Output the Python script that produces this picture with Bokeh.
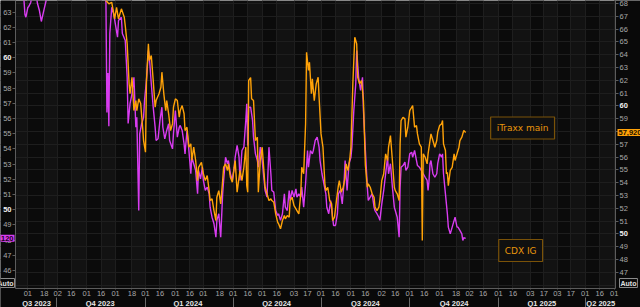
import pandas as pd
from bokeh.plotting import figure
from bokeh.models import Range1d, LinearAxis, FixedTicker, Label, ColumnDataSource, BoxAnnotation
from bokeh.embed import file_html
from bokeh.resources import INLINE

# ---------------- data (days counted from 2024-01-01) ----------------
BASE_DATE = "2024-01-01"

cdx_days = [-140, -135, -130, -126, -125, -124, -122, -121, -119, -117, -114, -112, -110, -108, -105, -103,
            -100, -95, -88, -80, -72, -65, -58, -52, -47, -44, -42, -41, -40, -39, -38, -37, -35, -33, -29,
            -28, -25, -24, -21, -19, -18, -16, -14, -12, -10, -9, -7, -6, -4, -2, -1, 1, 3, 4, 6, 8, 10, 11,
            13, 15, 17, 18, 20, 22, 24, 25, 28, 29, 31, 33, 35, 36, 38, 40, 41, 43, 45, 47, 48, 50, 52, 54,
            55, 57, 59, 60, 62, 64, 66, 67, 69, 71, 73, 74, 76, 78, 80, 81, 83, 85, 86, 88, 90, 92, 93, 95,
            97, 98, 100, 102, 104, 105, 106, 107, 109, 111, 112, 114, 116, 117, 119, 121, 123, 124, 126, 128,
            130, 131, 133, 135, 137, 138, 140, 142, 144, 145, 147, 149, 150, 152, 154, 156, 157, 159, 161,
            162, 164, 166, 168, 169, 171, 173, 174, 176, 178, 180, 181, 183, 185, 187, 188, 190, 192, 194,
            195, 197, 199, 200, 202, 204, 206, 207, 209, 211, 213, 214, 216, 218, 219, 221, 223, 225, 226,
            228, 230, 231, 233, 235, 237, 238, 240, 242, 243, 245, 247, 249, 251, 252, 254, 256, 258, 259,
            261, 263, 264, 265, 267, 269, 270, 272, 274, 276, 277, 279, 281, 282, 284, 286, 288, 290, 292,
            293, 294, 295, 296, 298, 300, 302, 303, 305, 307, 308, 309, 311, 313, 314, 316, 318, 320, 321,
            323, 324, 326, 328, 329, 330, 332]
cdx_vals = [64.6, 64.4, 64.2, 63.8, 62.85, 62.67, 63.31, 63.38, 63.64, 64.3, 64.4, 63.57, 63.11, 62.39, 63.24,
            63.77, 64.5, 65.5, 66.2, 65.8, 66.5, 67.5, 69.0, 70.5, 68.0, 66.0, 64.5, 63.6, 56.4, 59.0, 55.5,
            61.6, 63.33, 62.89, 61.36, 62.45, 62.67, 61.6, 61.14, 58.72, 55.68, 57.0, 57.63, 58.72, 55.43,
            56.09, 49.95, 55.0, 55.66, 56.09, 57.19, 58.51, 60.48, 60.04, 58.29, 56.75, 55.43, 54.56, 54.67,
            55.88, 56.75, 55.43, 54.67, 55.22, 55.66, 54.56, 54.01, 55.0, 56.53, 54.78, 55.43, 55.55, 55.22,
            54.34, 53.68, 55.22, 53.9, 52.37, 53.46, 53.03, 52.59, 51.05, 52.59, 52.04, 52.8, 51.93, 51.27,
            51.49, 51.05, 50.17, 49.51, 49.08, 48.2, 49.3, 49.74, 48.2, 51.05, 51.93, 53.46, 53.03, 53.24,
            52.37, 51.93, 52.8, 53.46, 54.23, 53.46, 51.93, 53.9, 54.12, 55.88, 56.97, 54.23, 56.75, 56.75,
            55.88, 54.78, 53.68, 53.24, 52.8, 54.12, 53.24, 51.93, 51.27, 50.83, 54.12, 52.37, 51.27, 51.16,
            49.95, 49.63, 49.74, 49.3, 49.74, 51.05, 50.17, 49.95, 51.27, 50.61, 51.27, 50.83, 51.38, 50.83,
            51.05, 50.83, 51.49, 50.17, 51.71, 53.9, 52.8, 53.9, 53.68, 53.9, 54.56, 54.78, 54.12, 53.24,
            52.37, 51.71, 51.05, 50.17, 49.74, 50.61, 49.51, 48.97, 48.97, 49.74, 51.05, 51.27, 50.39, 51.93,
            53.24, 51.27, 53.03, 53.46, 54.12, 56.53, 58.29, 60.48, 58.72, 57.85, 58.72, 56.53, 53.9, 51.49,
            50.61, 50.83, 51.05, 50.17, 49.95, 49.74, 49.51, 49.3, 50.39, 51.27, 52.37, 53.46, 52.37, 53.03,
            51.49, 50.17, 49.95, 49.51, 48.2, 51.49, 52.8, 52.91, 53.13, 52.59, 52.8, 53.68, 53.79, 53.46,
            53.9, 53.24, 52.91, 52.8, 52.59, 52.37, 52.14, 51.93, 51.27, 51.93, 53.03, 53.24, 52.37, 52.14,
            52.37, 53.03, 53.68, 53.46, 53.68, 52.37, 51.05, 49.74, 48.86, 48.42, 48.86, 49.3, 49.51, 48.86,
            48.86, 48.64, 48.42, 47.98, 48.16, 48.12]

itraxx_days = [-140, -120, -100, -80, -60, -50, -45, -43, -41, -38, -35, -32, -30, -28, -25, -22, -21, -19, -17,
               -16, -14, -12, -10, -9, -7, -5, -3, -2, 0, 1, 3, 4, 6, 8, 10, 11, 14, 16, 17, 19, 21, 22, 24,
               26, 28, 29, 31, 33, 35, 36, 38, 40, 41, 43, 45, 47, 48, 50, 52, 54, 55, 58, 60, 62, 64, 66, 67,
               69, 71, 73, 74, 76, 78, 80, 81, 83, 85, 86, 88, 90, 92, 93, 95, 97, 98, 100, 102, 104, 105, 106,
               107, 109, 110, 112, 114, 116, 117, 119, 121, 123, 124, 126, 128, 130, 131, 133, 135, 137, 138,
               140, 142, 144, 145, 147, 149, 150, 152, 154, 156, 157, 159, 161, 162, 164, 166, 167, 169, 170,
               172, 173, 175, 177, 179, 180, 182, 184, 186, 187, 189, 191, 193, 194, 196, 198, 200, 201, 203,
               205, 207, 208, 210, 212, 213, 215, 217, 219, 220, 222, 224, 226, 227, 228, 230, 231, 233, 235,
               237, 238, 240, 242, 243, 245, 247, 249, 251, 252, 254, 256, 258, 259, 261, 263, 264, 265, 267,
               269, 270, 272, 274, 276, 277, 279, 281, 282, 284, 286, 287, 288, 290, 292, 293, 295, 296, 298,
               300, 302, 303, 305, 307, 308, 309, 311, 312, 313, 314, 316, 318, 320, 321, 323, 325, 326, 328,
               330, 332]
itraxx_vals = [73.0, 72.5, 74.0, 76.0, 80.0, 83.0, 76.0, 70.0, 68.23, 67.97, 68.09, 66.8, 67.7, 66.8, 67.58,
               66.92, 66.27, 64.84, 61.72, 60.96, 62.23, 59.63, 60.41, 59.63, 60.55, 60.18, 58.33, 57.29,
               56.38, 61.98, 64.84, 63.54, 63.93, 61.98, 59.89, 60.41, 60.94, 61.45, 62.63, 60.94, 59.63,
               60.41, 59.38, 58.07, 58.59, 59.89, 60.55, 60.41, 59.11, 59.63, 60.02, 59.38, 58.07, 58.33,
               56.77, 57.03, 55.73, 56.77, 55.73, 54.16, 55.2, 55.59, 54.69, 54.16, 54.55, 53.38, 52.6, 52.73,
               51.82, 51.04, 52.86, 53.38, 52.34, 54.16, 55.2, 55.47, 54.95, 55.47, 54.42, 54.03, 55.2, 55.73,
               53.25, 54.42, 54.95, 54.16, 55.2, 56.77, 53.77, 53.25, 61.98, 62.21, 60.55, 60.41, 57.29,
               57.55, 53.25, 55.73, 56.77, 54.69, 53.64, 53.13, 52.6, 52.73, 52.6, 52.47, 51.56, 50.91, 50.78,
               50.39, 51.04, 51.43, 51.17, 51.43, 51.3, 52.6, 52.86, 52.21, 51.95, 51.82, 51.56, 53.13, 55.2,
               54.69, 58.59, 64.19, 62.76, 63.41, 60.94, 62.11, 60.41, 61.72, 62.23, 60.67, 57.81, 56.77,
               53.91, 53.38, 53.64, 52.6, 52.34, 51.04, 51.3, 52.6, 53.77, 54.16, 53.25, 53.64, 54.42, 55.47,
               54.95, 55.98, 56.77, 61.72, 65.36, 64.84, 62.23, 61.72, 61.98, 60.41, 57.81, 55.34, 53.64,
               53.91, 53.64, 53.13, 52.86, 52.08, 51.82, 52.08, 52.6, 54.16, 54.69, 56.25, 55.73, 56.77, 57.68,
               55.73, 53.64, 53.38, 53.13, 52.6, 57.03, 58.85, 59.11, 58.98, 57.55, 58.33, 59.63, 59.89,
               60.02, 58.33, 58.46, 57.81, 57.03, 56.77, 49.48, 56.25, 55.98, 55.47, 56.25, 57.29, 57.81,
               57.29, 56.77, 57.29, 57.94, 58.46, 58.59, 58.85, 57.03, 56.51, 54.69, 54.81, 53.77, 54.95, 55.2,
               56.25, 55.73, 56.25, 56.77, 57.29, 57.55, 58.07, 57.92]

cdx_last_label = "48,120"
itraxx_last_label = "57,920"

day_ticks = ["2023-09-01", "2023-09-18", "2023-10-02", "2023-10-16", "2023-11-01", "2023-11-16",
             "2023-12-01", "2023-12-18", "2024-01-01", "2024-01-16", "2024-02-01", "2024-02-16",
             "2024-03-01", "2024-03-18", "2024-04-01", "2024-04-16", "2024-05-01", "2024-05-16",
             "2024-06-03", "2024-06-17", "2024-07-01", "2024-07-16", "2024-08-01", "2024-08-16",
             "2024-09-02", "2024-09-16", "2024-10-01", "2024-10-16", "2024-11-01", "2024-11-18",
             "2024-12-02", "2024-12-16", "2025-01-01", "2025-01-16", "2025-02-03", "2025-02-17",
             "2025-03-03", "2025-03-17", "2025-04-01", "2025-04-16", "2025-05-01"]
day_labels = ["01", "18", "02", "16", "01", "16", "01", "18", "01", "16", "01", "16", "01", "18", "01", "16",
              "01", "16", "03", "17", "01", "16", "01", "16", "02", "16", "01", "16", "01", "18", "02", "16",
              "01", "16", "03", "17", "03", "17", "01", "16", "01"]

quarter_mids = ["2023-09-10", "2023-11-15", "2024-02-14", "2024-05-16", "2024-08-16", "2024-11-16",
                "2025-02-15", "2025-04-17"]
quarter_names = ["Q3 2023", "Q4 2023", "Q1 2024", "Q2 2024", "Q3 2024", "Q4 2024", "Q1 2025", "Q2 2025"]
quarter_bounds = ["2023-10-01", "2024-01-01", "2024-04-01", "2024-07-01", "2024-10-01", "2025-01-01",
                  "2025-04-01"]

cdx_ticks = list(range(46, 64))
itraxx_ticks = list(range(47, 69))
grid_ticks = list(range(46, 69))
bold_ticks = [50, 60]

X_START, X_END = "2023-08-19 05:00", "2025-05-02 08:00"
CDX_RANGE = (44.82, 63.77)
ITRAXX_RANGE = (45.73, 68.23)

# ---------------- layout constants (pixels) ----------------
W, H = 640, 307
PAD_L, PAD_R, PAD_B = 15, 25, 19          # room for the axes around the data area
QROW = 9                                  # quarter row offset below the data area


def ms(s):
    return float(pd.Timestamp(s).value // 10**6)


base = pd.Timestamp(BASE_DATE)
cdx_src = ColumnDataSource(dict(x=base + pd.to_timedelta(cdx_days, unit="D"), y=cdx_vals))
itr_src = ColumnDataSource(dict(x=base + pd.to_timedelta(itraxx_days, unit="D"), y=itraxx_vals))

xs, xe = ms(X_START), ms(X_END)
kx = (xe - xs) / (W - PAD_L - PAD_R)                 # ms per pixel
ky_c = (CDX_RANGE[1] - CDX_RANGE[0]) / (H - PAD_B)   # units per pixel (left)
ky_i = (ITRAXX_RANGE[1] - ITRAXX_RANGE[0]) / (H - PAD_B)

FONT = "Liberation Sans"
LBL = "#a8a8a8"
AXC = "#5c5c5c"
MAGENTA = "#d83cf0"
ORANGE = "#ffa208"
OUTER = "#090909"
BAND_LIGHT = "#121212"
BAND_DARK = "#0b0b0b"

p = figure(width=W, height=H, x_axis_type="datetime",
           x_range=Range1d(xs - PAD_L * kx, xe + PAD_R * kx),
           y_range=Range1d(CDX_RANGE[0] - PAD_B * ky_c, CDX_RANGE[1]),
           output_backend="svg", toolbar_location=None, min_border=0,
           background_fill_color=BAND_LIGHT, border_fill_color=OUTER, outline_line_color=None)
p.extra_y_ranges = {"itr": Range1d(ITRAXX_RANGE[0] - PAD_B * ky_i, ITRAXX_RANGE[1])}

# alternating half-month shading (first half of each month darker)
tick_ms = [ms(d) for d in day_ticks]
band_l = [a for a, lab in zip(tick_ms, day_labels) if lab in ("01", "02", "03")]
band_r = [min(b, xe) for a, b, lab in zip(tick_ms, tick_ms[1:] + [xe], day_labels) if lab in ("01", "02", "03")]
p.quad(left=band_l, right=band_r, bottom=CDX_RANGE[0], top=CDX_RANGE[1],
       fill_color=BAND_DARK, line_color=None, level="image")

# grids (drawn over the bands, then masked outside the data area)
p.xgrid[0].ticker = FixedTicker(ticks=tick_ms)
p.xgrid[0].grid_line_color = "#1e1e1e"
p.ygrid[0].y_range_name = "itr"
p.ygrid[0].ticker = FixedTicker(ticks=grid_ticks)
p.ygrid[0].grid_line_color = "#1e1e1e"

for box in (BoxAnnotation(right=xs, fill_color=OUTER, fill_alpha=1, line_color=None, level="underlay"),
            BoxAnnotation(left=xe, fill_color=OUTER, fill_alpha=1, line_color=None, level="underlay"),
            BoxAnnotation(top=CDX_RANGE[0], fill_color=OUTER, fill_alpha=1, line_color=None, level="underlay")):
    p.add_layout(box)

# bottom day axis
xa = p.xaxis[0]
xa.fixed_location = CDX_RANGE[0]
xa.bounds = (xs, xe)
xa.ticker = FixedTicker(ticks=tick_ms)
xa.major_label_overrides = {t: l for t, l in zip(tick_ms, day_labels)}
xa.axis_line_color = AXC
xa.major_tick_line_color = AXC
xa.major_tick_out = 1
xa.major_tick_in = 0
xa.minor_tick_line_color = None
xa.major_label_standoff = 1
xa.major_label_text_font = FONT
xa.major_label_text_font_size = "7.5px"
xa.major_label_text_color = LBL

# quarter names with separators (minor ticks at quarter boundaries)
q_loc = CDX_RANGE[0] - QROW * ky_c
qa = LinearAxis(fixed_location=q_loc,
                ticker=FixedTicker(ticks=[ms(d) for d in quarter_mids],
                                   minor_ticks=[ms(d) for d in quarter_bounds]))
qa.major_label_overrides = {ms(d): n for d, n in zip(quarter_mids, quarter_names)}
qa.axis_line_color = None
qa.major_tick_line_color = None
qa.major_tick_out = 0
qa.major_tick_in = 0
qa.minor_tick_line_color = "#6a6a6a"
qa.minor_tick_in = 0
qa.minor_tick_out = 11
qa.major_label_standoff = -10
qa.major_label_text_font = FONT
qa.major_label_text_font_size = "7.5px"
qa.major_label_text_font_style = "bold"
qa.major_label_text_color = "#e6e6e6"
p.add_layout(qa, "below")

# left axis (CDX IG)
ya = p.yaxis[0]
ya.fixed_location = xs
ya.bounds = CDX_RANGE
ya.ticker = FixedTicker(ticks=cdx_ticks)
ya.major_label_overrides = {t: "" for t in bold_ticks}
ya.axis_line_color = AXC
ya.major_tick_line_color = AXC
ya.major_tick_out = 3
ya.major_tick_in = 0
ya.minor_tick_line_color = None
ya.major_label_standoff = 1
ya.major_label_text_font = FONT
ya.major_label_text_font_size = "7.5px"
ya.major_label_text_color = LBL

# right axis (iTraxx main)
ra = LinearAxis(y_range_name="itr", fixed_location=xe, bounds=ITRAXX_RANGE,
                ticker=FixedTicker(ticks=itraxx_ticks))
ra.major_label_overrides = {t: "" for t in bold_ticks}
ra.axis_line_color = AXC
ra.major_tick_line_color = AXC
ra.major_tick_out = 3
ra.major_tick_in = 0
ra.minor_tick_line_color = None
ra.major_label_standoff = 1
ra.major_label_text_font = FONT
ra.major_label_text_font_size = "7.5px"
ra.major_label_text_color = LBL
p.add_layout(ra, "right")

# series
p.line("x", "y", source=cdx_src, line_color=MAGENTA, line_width=1.4)
p.line("x", "y", source=itr_src, line_color=ORANGE, line_width=1.4, y_range_name="itr")

# bold 50 / 60 tick labels
for t in bold_ticks:
    p.add_layout(Label(x=xs, y=t, x_offset=-4, text=str(t), text_align="right", text_baseline="middle",
                       text_font=FONT, text_font_size="7.5px", text_font_style="bold", text_color="#f2f2f2"))
    p.add_layout(Label(x=xe, y=t, y_range_name="itr", x_offset=4, text=str(t), text_align="left",
                       text_baseline="middle", text_font=FONT, text_font_size="7.5px",
                       text_font_style="bold", text_color="#f2f2f2"))

# last-value tags
p.add_layout(Label(x=xs, y=cdx_vals[-1], x_offset=-1, text=cdx_last_label, text_align="right",
                   text_baseline="middle", text_font=FONT, text_font_size="7.5px", text_font_style="bold",
                   text_color="#1a001a", background_fill_color=MAGENTA, padding=1))
p.add_layout(Label(x=xe, y=itraxx_vals[-1], y_range_name="itr", x_offset=2, text=itraxx_last_label,
                   text_align="left", text_baseline="middle", text_font=FONT, text_font_size="7.5px",
                   text_font_style="bold", text_color="#1a1000", background_fill_color=ORANGE, padding=1))

# series annotations
p.add_layout(Label(x=ms("2025-01-26"), y=58.27, y_range_name="itr", text="iTraxx main", text_align="center",
                   text_baseline="middle", text_font="DejaVu Sans", text_font_size="9px",
                   text_color="#e8960c", border_line_color="#7a5208", border_line_width=1.2,
                   background_fill_color="#101010", padding=6))
p.add_layout(Label(x=ms("2025-01-24"), y=47.32, text="CDX IG", text_align="center",
                   text_baseline="middle", text_font="DejaVu Sans", text_font_size="9px",
                   text_color="#e8960c", border_line_color="#7a5208", border_line_width=1.2,
                   background_fill_color="#101010", padding=6))

# "Auto" boxes at the axis feet
p.add_layout(Label(x=xs, y=CDX_RANGE[0], x_offset=-1, y_offset=1, text="Auto", text_align="right",
                   text_baseline="bottom", text_font=FONT, text_font_size="7px", text_font_style="bold",
                   text_color="#e0e0e0", border_line_color="#8a8a8a", background_fill_color="#0a0a0a",
                   padding=1))
p.add_layout(Label(x=xe, y=CDX_RANGE[0], x_offset=4, y_offset=1, text="Auto", text_align="left",
                   text_baseline="bottom", text_font=FONT, text_font_size="7px", text_font_style="bold",
                   text_color="#e0e0e0", border_line_color="#8a8a8a", background_fill_color="#0a0a0a",
                   padding=1))

open("out.html", "w").write(file_html(p, INLINE))
